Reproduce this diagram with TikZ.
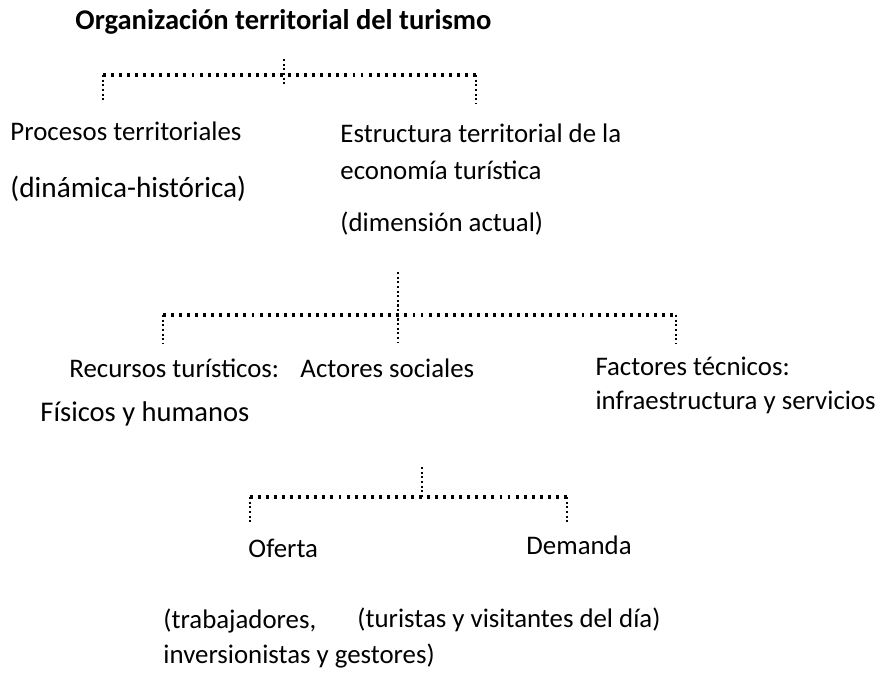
\documentclass[tikz,border=0pt]{standalone}
\usepackage{fontspec}
\setmainfont{Carlito}
\begin{document}
\begin{tikzpicture}[x=0.41pt,y=-0.41pt,
  txt/.style={anchor=west, inner sep=0pt, font=\fontsize{11}{13}\selectfont},
  big/.style={anchor=west, inner sep=0pt, font=\fontsize{12}{14}\selectfont},
  hdots/.style={line width=1.3pt, dash pattern=on 1.2pt off 2.1pt},
  vdots/.style={line width=0.9pt, dash pattern=on 0.9pt off 1.0pt}]
\useasboundingbox (0,0) rectangle (881,673);
% texts
\node[txt, font=\fontsize{11.7}{14}\selectfont\bfseries] (title) at (75,22) {Organización territorial del turismo};
\node[txt] (proc) at (10,131) {Procesos territoriales};
\node[big] (dinh) at (10,189) {(dinámica-histórica)};
\node[txt] (estr1) at (340,133) {Estructura territorial de la};
\node[txt] (estr2) at (340,170) {economía turística};
\node[txt] (dima) at (340,224) {(dimensión actual)};
\node[txt] (recu) at (69,368) {Recursos turísticos:};
\node[txt] (acto) at (300,368) {Actores sociales};
\node[txt] (fact1) at (595,366) {Factores técnicos:};
\node[txt] (fact2) at (595,402) {infraestructura y servicios};
\node[big, font=\fontsize{11.7}{14}\selectfont] (fisi) at (40,414) {Físicos y humanos};
\node[txt] (ofer) at (248,548) {Oferta};
\node[txt] (dema) at (526,545) {Demanda};
\node[txt] (trab1) at (163,621) {(trabajadores,};
\node[txt] (trab2) at (163,656) {inversionistas y gestores)};
\node[txt] (turi) at (357,620) {(turistas y visitantes del día)};
% tree 1
\coordinate (t1top) at (284,59);
\coordinate (t1mid) at (284,75);
\coordinate (t1bot) at (284,85);
\coordinate (t1l) at (103,75);
\coordinate (t1r) at (476,75);
\coordinate (t1lb) at (103,100);
\coordinate (t1rb) at (476,103);
\draw[hdots] (t1l) -- (t1r);
\draw[vdots] (t1top) -- (t1bot);
\draw[vdots] (t1l) -- (t1lb);
\draw[vdots] (t1r) -- (t1rb);
% tree 2
\coordinate (t2top) at (398,272);
\coordinate (t2mid) at (398,315);
\coordinate (t2bot) at (398,343);
\coordinate (t2l) at (163,315);
\coordinate (t2r) at (676,315);
\coordinate (t2lb) at (163,343);
\coordinate (t2rb) at (676,343);
\draw[hdots] (t2l) -- (t2r);
\draw[vdots] (t2top) -- (t2bot);
\draw[vdots] (t2l) -- (t2lb);
\draw[vdots] (t2r) -- (t2rb);
% tree 3
\coordinate (t3top) at (422,467);
\coordinate (t3mid) at (422,497);
\coordinate (t3l) at (250,497);
\coordinate (t3r) at (567,497);
\coordinate (t3lb) at (250,523);
\coordinate (t3rb) at (567,522);
\draw[hdots] (t3l) -- (t3r);
\draw[vdots] (t3top) -- (t3mid);
\draw[vdots] (t3l) -- (t3lb);
\draw[vdots] (t3r) -- (t3rb);
\end{tikzpicture}
\end{document}
